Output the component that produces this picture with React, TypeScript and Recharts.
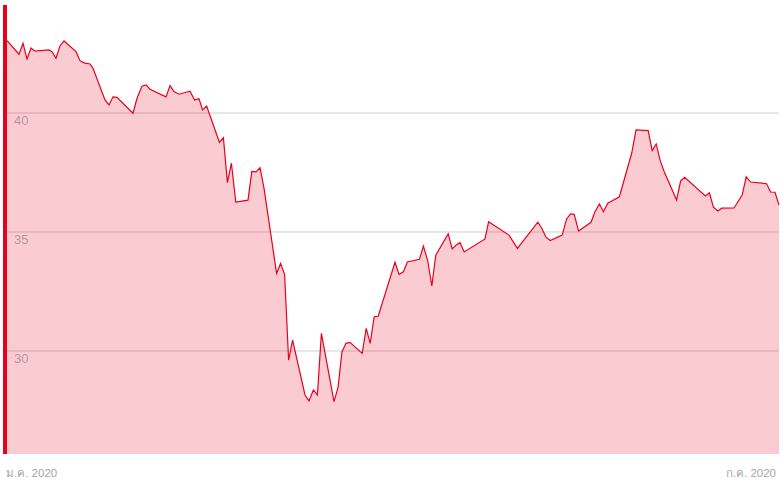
import React from 'react';
import { AreaChart, Area, XAxis, YAxis, CartesianGrid, ReferenceLine } from 'recharts';

// trading days counted from the start of Jan 2020
const days = [
  0, 3, 4, 5, 6, 7, 10.5, 11.25, 12.25, 13.25, 14.25, 17.25, 18.25, 19.25, 20.75, 21.5,
  24.5, 25.5, 26.5, 27.5, 31.5, 32.5, 33.75, 34.75, 35.75, 39.75, 40.75, 41.75, 43, 45.75,
  46.9, 48, 48.9, 49.9, 53.1, 54.1, 55.1, 56.1, 57.2, 60.25, 61.2, 62.25, 63.25, 64.25,
  67.4, 68.4, 69.4, 70.4, 71.4, 74.5, 75.5, 76.6, 77.6, 78.6, 81.75, 82.75, 83.75, 84.75,
  85.75, 88.8, 89.8, 90.8, 91.8, 92.8, 97, 98, 99.1, 100.1, 103.1, 104.1, 105.2, 106.2,
  107.2, 110.3, 111.3, 112.3, 113.25, 114.3, 119.5, 120.4, 125.5, 127.6, 132.7, 133.7,
  134.75, 135.8, 138.8, 139.9, 140.9, 141.8, 142.9, 146, 147, 148.1, 149.1, 150.2, 153.1,
  156.2, 157.25, 160.3, 161.3, 162.3, 163.3, 164.3, 167.4, 168.4, 169.4, 174.6, 175.6,
  176.6, 177.7, 178.7, 181.75, 183.8, 184.8, 185.9, 189.9, 190.9, 192, 193,
];

const prices = [
  43.04, 42.47, 42.93, 42.27, 42.73, 42.6, 42.65, 42.58, 42.3, 42.82, 43.03, 42.58, 42.2, 42.11, 42.06, 41.88,
  40.55, 40.34, 40.68, 40.66, 39.99, 40.62, 41.13, 41.18, 41.0, 40.68, 41.15, 40.9, 40.79, 40.92,
  40.55, 40.6, 40.13, 40.29, 38.77, 38.96, 37.07, 37.89, 36.26, 36.34, 37.55, 37.53, 37.7, 36.84,
  33.26, 33.68, 33.22, 29.62, 30.46, 28.15, 27.9, 28.36, 28.15, 30.74, 27.87, 28.46, 29.97, 30.32,
  30.36, 29.9, 30.95, 30.32, 31.44, 31.46, 33.73, 33.22, 33.33, 33.74, 33.85, 34.41, 33.78, 32.73,
  34.03, 34.92, 34.29, 34.45, 34.55, 34.16, 34.71, 35.43, 34.87, 34.31, 35.41, 35.16,
  34.78, 34.64, 34.87, 35.55, 35.76, 35.74, 35.04, 35.41, 35.85, 36.18, 35.85, 36.21, 36.48,
  38.33, 39.29, 39.26, 38.42, 38.7, 38.0, 37.53, 36.34, 37.14, 37.3, 36.51, 36.65,
  36.04, 35.88, 36.0, 36.01, 36.55, 37.32, 37.1, 37.03, 36.68, 36.67, 36.13,
];

const xTicks = [-0.5, 193];
const xLabels = ['ม.ค. 2020', 'ก.ค. 2020'];
const yTicks = [30, 35, 40];

const data = days.map((d, i) => ({ day: d, price: prices[i] }));

const RED = '#e8001c';
const FONT = '"Liberation Sans", Arial, sans-serif';

const XTick = (props: any) => {
  const { x, index } = props;
  const first = index === 0;
  return (
    <text
      x={first ? x + 1 : x - 3}
      y={477}
      textAnchor={first ? 'start' : 'end'}
      fill="#a6a6a6"
      fontSize={11.5}
      fontFamily={FONT}
    >
      {xLabels[index]}
    </text>
  );
};

// price label sitting just under its grid line, inside the plot
const yLabel = (v: number) => (props: any) => {
  const { viewBox } = props;
  return (
    <text x={14} y={viewBox.y + 12} fill="rgba(0,0,0,0.3)" fontSize={13} fontFamily={FONT}>
      {v}
    </text>
  );
};

export default function App() {
  return (
    <div style={{ position: 'absolute', left: 0, top: 0, width: 782, height: 487, background: '#fff' }}>
      <AreaChart width={782} height={487} data={data} margin={{ top: 5, right: 3, left: 5, bottom: 0 }}>
        <CartesianGrid vertical={false} stroke="#d0d0d0" horizontalValues={yTicks} />
        <XAxis
          type="number"
          dataKey="day"
          domain={[-0.5, 193]}
          ticks={xTicks}
          interval={0}
          axisLine={false}
          tickLine={false}
          height={33}
          tick={<XTick />}
        />
        <YAxis type="number" domain={[25.67, 44.54]} ticks={yTicks} allowDataOverflow hide />
        <Area
          type="linear"
          dataKey="price"
          stroke={RED}
          strokeWidth={1.2}
          fill={RED}
          fillOpacity={0.2}
          dot={false}
          activeDot={false}
          isAnimationActive={false}
        />
        {yTicks.map((v) => (
          <ReferenceLine key={v} y={v} stroke="none" label={yLabel(v)} />
        ))}
        <ReferenceLine x={-0.5} stroke={RED} strokeWidth={4} />
      </AreaChart>
    </div>
  );
}
